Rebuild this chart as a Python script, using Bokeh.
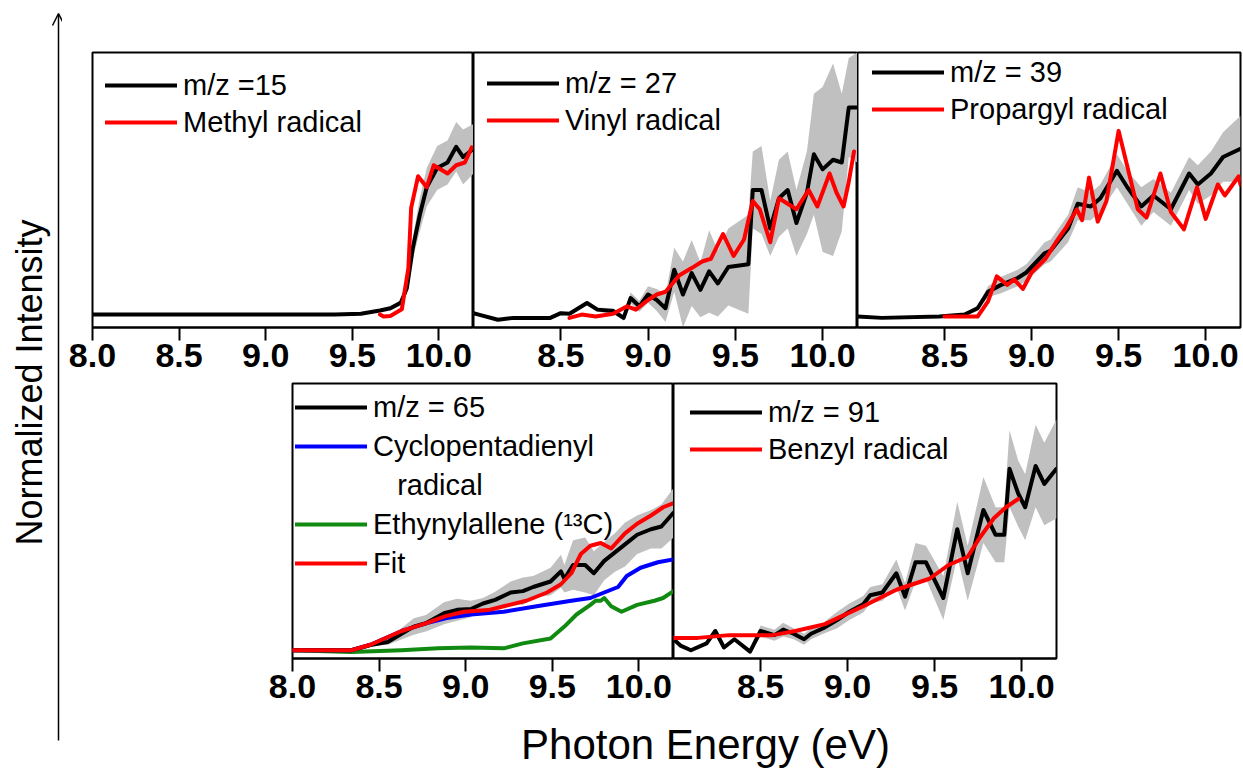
from bokeh.plotting import figure
from bokeh.layouts import row, column
from bokeh.models import (Spacer, Range1d, FixedTicker, PrintfTickFormatter, Legend,
                          LegendItem, Label, Arrow, OpenHead)
from bokeh.embed import file_html
from bokeh.resources import INLINE

# ---------------- data (photon energy in eV, normalized intensity) ----------------
# m/z = 15 / methyl radical
x15 = [8.0, 9.4, 9.55, 9.66, 9.72, 9.78, 9.815, 9.85, 9.89, 9.93, 9.99, 10.05, 10.10, 10.14, 10.2]
y15 = [0.047, 0.047, 0.05, 0.062, 0.07, 0.09, 0.143, 0.29, 0.41, 0.51, 0.58, 0.60, 0.657, 0.62, 0.65]
e15 = [0.002, 0.002, 0.003, 0.005, 0.008, 0.01, 0.02, 0.04, 0.06, 0.07, 0.08, 0.08, 0.09, 0.1, 0.09]
x_methyl = [9.66, 9.68, 9.72, 9.786, 9.824, 9.84, 9.88, 9.93, 9.97, 10.05, 10.10, 10.15, 10.19]
y_methyl = [0.047, 0.04, 0.042, 0.066, 0.216, 0.435, 0.55, 0.51, 0.59, 0.56, 0.59, 0.60, 0.655]

# m/z = 27 / vinyl radical
x27 = [8.0, 8.03, 8.14, 8.23, 8.44, 8.50, 8.55, 8.65, 8.71, 8.80, 8.86, 8.90, 8.95, 9.0, 9.05,
       9.10, 9.15, 9.20, 9.25, 9.30, 9.35, 9.40, 9.46, 9.575, 9.60, 9.65, 9.70, 9.75, 9.80, 9.85,
       9.91, 9.95, 10.0, 10.06, 10.11, 10.15, 10.2]
y27 = [0.052, 0.047, 0.028, 0.035, 0.035, 0.052, 0.05, 0.089, 0.065, 0.06, 0.035, 0.107, 0.077,
       0.12, 0.10, 0.07, 0.21, 0.12, 0.198, 0.137, 0.204, 0.16, 0.22, 0.23, 0.50, 0.50, 0.36, 0.47,
       0.50, 0.38, 0.49, 0.63, 0.575, 0.61, 0.60, 0.80, 0.80]
e27 = [0.004, 0.004, 0.004, 0.004, 0.004, 0.005, 0.005, 0.008, 0.008, 0.01, 0.01, 0.02, 0.02,
       0.03, 0.04, 0.05, 0.08, 0.12, 0.12, 0.10, 0.15, 0.12, 0.14, 0.18, 0.14, 0.16, 0.10, 0.14,
       0.14, 0.12, 0.15, 0.22, 0.30, 0.35, 0.25, 0.18, 0.20]
x_vinyl = [8.55, 8.62, 8.70, 8.80, 8.88, 8.93, 9.0, 9.05, 9.10, 9.18, 9.25, 9.31, 9.36, 9.43, 9.49,
           9.55, 9.60, 9.64, 9.70, 9.75, 9.80, 9.85, 9.89, 9.92, 9.97, 10.04, 10.08, 10.12, 10.15, 10.18]
y_vinyl = [0.035, 0.047, 0.04, 0.05, 0.077, 0.065, 0.10, 0.12, 0.13, 0.19, 0.216, 0.24, 0.25, 0.34,
           0.26, 0.32, 0.46, 0.43, 0.31, 0.47, 0.45, 0.43, 0.47, 0.50, 0.44, 0.56, 0.49, 0.44, 0.53, 0.64]

# m/z = 39 / propargyl radical
x39 = [8.0, 8.14, 8.47, 8.615, 8.69, 8.75, 8.825, 8.92, 8.97, 9.075, 9.11, 9.21, 9.265, 9.34,
       9.395, 9.49, 9.55, 9.63, 9.70, 9.80, 9.905, 9.955, 10.03, 10.10, 10.2]
y39 = [0.04, 0.035, 0.04, 0.047, 0.07, 0.13, 0.155, 0.18, 0.20, 0.27, 0.28, 0.36, 0.45, 0.44,
       0.47, 0.57, 0.51, 0.44, 0.48, 0.43, 0.56, 0.52, 0.56, 0.62, 0.65]
e39 = [0.003, 0.003, 0.003, 0.005, 0.01, 0.02, 0.03, 0.03, 0.03, 0.04, 0.04, 0.05, 0.06, 0.05,
       0.05, 0.06, 0.06, 0.07, 0.06, 0.06, 0.06, 0.07, 0.08, 0.09, 0.12]
x_propargyl = [8.5, 8.69, 8.75, 8.80, 8.86, 8.90, 8.95, 9.0, 9.08, 9.14, 9.2, 9.26, 9.29, 9.33,
               9.38, 9.43, 9.50, 9.61, 9.66, 9.74, 9.80, 9.875, 9.95, 10.0, 10.07, 10.11, 10.19, 10.2]
y_propargyl = [0.04, 0.04, 0.095, 0.186, 0.155, 0.175, 0.14, 0.20, 0.25, 0.31, 0.365, 0.43, 0.39,
               0.545, 0.385, 0.46, 0.715, 0.43, 0.40, 0.56, 0.42, 0.357, 0.51, 0.395, 0.52, 0.48,
               0.55, 0.52]

# m/z = 65 / cyclopentadienyl, ethynylallene (13C), fit
x65 = [8.0, 8.34, 8.45, 8.55, 8.70, 8.77, 8.875, 8.95, 9.03, 9.10, 9.17, 9.26, 9.33, 9.39, 9.49,
       9.55, 9.57, 9.62, 9.69, 9.74, 9.80, 9.86, 9.92, 9.99, 10.07, 10.13, 10.2]
y65 = [0.03, 0.03, 0.049, 0.06, 0.116, 0.128, 0.165, 0.177, 0.18, 0.20, 0.213, 0.24, 0.245, 0.26,
       0.28, 0.317, 0.29, 0.34, 0.34, 0.31, 0.355, 0.385, 0.415, 0.45, 0.47, 0.48, 0.53]
e65 = [0.002, 0.002, 0.002, 0.01, 0.03, 0.03, 0.04, 0.04, 0.03, 0.02, 0.03, 0.04, 0.05, 0.04,
       0.05, 0.06, 0.05, 0.09, 0.10, 0.08, 0.07, 0.07, 0.08, 0.07, 0.07, 0.08, 0.09]
x_fit = [8.0, 8.34, 8.45, 8.63, 8.77, 8.88, 8.99, 9.13, 9.22, 9.35, 9.47, 9.55, 9.61, 9.665, 9.72,
         9.78, 9.84, 9.92, 9.99, 10.07, 10.14, 10.2]
y_fit = [0.03, 0.03, 0.05, 0.10, 0.128, 0.153, 0.17, 0.176, 0.19, 0.21, 0.24, 0.27, 0.31, 0.38,
         0.41, 0.42, 0.40, 0.455, 0.49, 0.52, 0.55, 0.565]
x_cpd = [8.0, 8.34, 8.45, 8.63, 8.77, 8.89, 9.03, 9.22, 9.41, 9.61, 9.72, 9.80, 9.88, 9.93, 10.01,
         10.11, 10.2]
y_cpd = [0.03, 0.03, 0.05, 0.10, 0.128, 0.147, 0.16, 0.17, 0.19, 0.21, 0.22, 0.24, 0.26, 0.30,
         0.33, 0.35, 0.36]
x_ea = [8.0, 8.34, 8.63, 8.84, 9.03, 9.22, 9.33, 9.49, 9.57, 9.64, 9.72, 9.75, 9.78, 9.80, 9.84,
        9.90, 9.99, 10.09, 10.14, 10.2]
y_ea = [0.03, 0.024, 0.03, 0.037, 0.04, 0.037, 0.055, 0.073, 0.116, 0.16, 0.195, 0.21, 0.21, 0.22,
        0.19, 0.17, 0.195, 0.21, 0.22, 0.245]

# m/z = 91 / benzyl radical
x91 = [8.0, 8.04, 8.10, 8.19, 8.24, 8.29, 8.35, 8.44, 8.50, 8.58, 8.63, 8.69, 8.75, 8.79, 8.86,
       8.94, 9.01, 9.09, 9.13, 9.20, 9.28, 9.33, 9.39, 9.45, 9.55, 9.63, 9.69, 9.78, 9.85, 9.90,
       9.93, 9.98, 10.02, 10.08, 10.13, 10.2]
y91 = [0.07, 0.047, 0.03, 0.055, 0.10, 0.04, 0.07, 0.025, 0.10, 0.085, 0.105, 0.09, 0.07, 0.09,
       0.11, 0.14, 0.17, 0.197, 0.23, 0.24, 0.31, 0.225, 0.35, 0.35, 0.22, 0.47, 0.31, 0.54, 0.45,
       0.45, 0.69, 0.60, 0.55, 0.70, 0.635, 0.69]
e91 = [0.005, 0.005, 0.005, 0.005, 0.005, 0.005, 0.005, 0.005, 0.02, 0.02, 0.025, 0.02, 0.02,
       0.02, 0.02, 0.03, 0.03, 0.03, 0.03, 0.03, 0.05, 0.05, 0.07, 0.06, 0.08, 0.10, 0.10, 0.12,
       0.10, 0.10, 0.14, 0.12, 0.12, 0.15, 0.15, 0.18]
x_benzyl = [8.0, 8.14, 8.32, 8.57, 8.70, 8.87, 8.97, 9.09, 9.28, 9.47, 9.58, 9.69, 9.76, 9.84,
            9.91, 9.98]
y_benzyl = [0.075, 0.075, 0.085, 0.085, 0.10, 0.125, 0.155, 0.19, 0.25, 0.29, 0.34, 0.37, 0.44,
            0.51, 0.55, 0.58]

ticks_full = [8.0, 8.5, 9.0, 9.5, 10.0]
ticks_part = [8.5, 9.0, 9.5, 10.0]

FONT = "Liberation Sans"
BAND = "#c0c0c0"
LW = 4


def panel(fw, fh, ticks, mbl, mbr, mbt, mbb):
    p = figure(frame_width=fw, frame_height=fh, x_range=Range1d(8.0, 10.2), y_range=Range1d(0, 1),
               output_backend="svg", toolbar_location=None, y_axis_location=None,
               min_border_left=mbl, min_border_right=mbr, min_border_top=mbt,
               min_border_bottom=mbb, background_fill_color="white", border_fill_color="white")
    p.grid.visible = False
    p.outline_line_color = "black"
    p.outline_line_width = 2
    ax = p.xaxis[0]
    ax.ticker = FixedTicker(ticks=ticks)
    ax.formatter = PrintfTickFormatter(format="%.1f")
    ax.major_label_text_font = FONT
    ax.major_label_text_font_style = "bold"
    ax.major_label_text_font_size = "34px"
    ax.major_label_text_color = "black"
    ax.major_label_standoff = 3
    ax.major_tick_out = 13
    ax.major_tick_in = 0
    ax.minor_tick_out = 0
    ax.minor_tick_in = 0
    ax.major_tick_line_width = 2
    ax.axis_line_width = 2
    return p


def band(p, x, y, e):
    lo = [a - b for a, b in zip(y, e)]
    hi = [a + b for a, b in zip(y, e)]
    p.varea(x=x, y1=lo, y2=hi, fill_color=BAND)


def ln(p, x, y, color):
    return p.line(x, y, line_color=color, line_width=LW, line_join="round", line_cap="round")


def add_legend(p, items, fh, left, top, spacing):
    n = len(items)
    item_h = 36
    H = n * item_h + (n - 1) * spacing
    leg = Legend(items=[LegendItem(label=l, renderers=[r]) for l, r in items],
                 location=(left, fh - top - H), padding=0, margin=0, spacing=spacing,
                 glyph_width=72, glyph_height=item_h, label_height=item_h, label_standoff=6,
                 label_text_font=FONT, label_text_font_size="29px", label_text_color="black",
                 border_line_alpha=0, background_fill_alpha=0)
    p.add_layout(leg)


FH_TOP = 275
# ---- top row ----
p1 = panel(381, FH_TOP, ticks_full, 30, 0, 52, 54)
band(p1, x15, y15, e15)
r1a = ln(p1, x15, y15, "black")
r1b = ln(p1, x_methyl, y_methyl, "#ff0000")
add_legend(p1, [("m/z =15", r1a), ("Methyl radical", r1b)], FH_TOP, 13, 15, 1)

p2 = panel(384, FH_TOP, ticks_part, 0, 0, 52, 54)
band(p2, x27, y27, e27)
r2a = ln(p2, x27, y27, "black")
r2b = ln(p2, x_vinyl, y_vinyl, "#ff0000")
add_legend(p2, [("m/z = 27", r2a), ("Vinyl radical", r2b)], FH_TOP, 14, 13, 1)

p3 = panel(383, FH_TOP, ticks_part, 0, 3, 52, 54)
band(p3, x39, y39, e39)
r3a = ln(p3, x39, y39, "black")
r3b = ln(p3, x_propargyl, y_propargyl, "#ff0000")
add_legend(p3, [("m/z = 39", r3a), ("Propargyl radical", r3b)], FH_TOP, 15, 2, 1)

# ---- bottom row ----
FH_BOT = 275
p4 = panel(381, FH_BOT, ticks_full, 30, 0, 2, 58)
band(p4, x65, y65, e65)
r4g = ln(p4, x_ea, y_ea, "#108a10")
r4b = ln(p4, x_cpd, y_cpd, "#0000ff")
r4k = ln(p4, x65, y65, "black")
r4r = ln(p4, x_fit, y_fit, "#ff0000")
r4d = p4.line([], [], line_alpha=0)
add_legend(p4, [("m/z = 65", r4k), ("Cyclopentadienyl", r4b),
                ("\u00a0\u00a0\u00a0radical", r4d),
                ("Ethynylallene (\u00b9\u00b3C)", r4g), ("Fit", r4r)], FH_BOT, 3, 6, 3)

p5 = panel(383, FH_BOT, ticks_part, 0, 10, 2, 58)
band(p5, x91, y91, e91)
r5a = ln(p5, x91, y91, "black")
r5b = ln(p5, x_benzyl, y_benzyl, "#ff0000")
add_legend(p5, [("m/z = 91", r5a), ("Benzyl radical", r5b)], FH_BOT, 17, 11, 1)

# ---- left label + arrow ----
left = figure(frame_width=62, frame_height=770, x_range=Range1d(0, 62), y_range=Range1d(0, 770),
              output_backend="svg", toolbar_location=None, x_axis_location=None,
              y_axis_location=None, min_border=0, outline_line_color=None)
left.grid.visible = False
left.add_layout(Arrow(end=OpenHead(size=12, line_width=1.5, line_color="black"),
                      x_start=58, y_start=30, x_end=58, y_end=757, line_width=1.5,
                      line_color="black"))
left.add_layout(Label(x=29, y=388, text="Normalized Intensity", angle=90, angle_units="deg",
                      text_align="center", text_baseline="middle", text_font=FONT,
                      text_font_size="36px", text_color="black"))

# ---- bottom label ----
bottom = figure(frame_width=1181, frame_height=54, x_range=Range1d(0, 1181), y_range=Range1d(0, 54),
                output_backend="svg", toolbar_location=None, x_axis_location=None,
                y_axis_location=None, min_border=0, outline_line_color=None)
bottom.grid.visible = False
bottom.add_layout(Label(x=643, y=26, text="Photon Energy (eV)", text_align="center",
                        text_baseline="middle", text_font=FONT, text_font_size="42px",
                        text_color="black"))

layout = row(left, column(row(p1, p2, p3), row(Spacer(width=200, height=335), p4, p5), bottom))

open("out.html", "w").write(file_html(layout, INLINE))
